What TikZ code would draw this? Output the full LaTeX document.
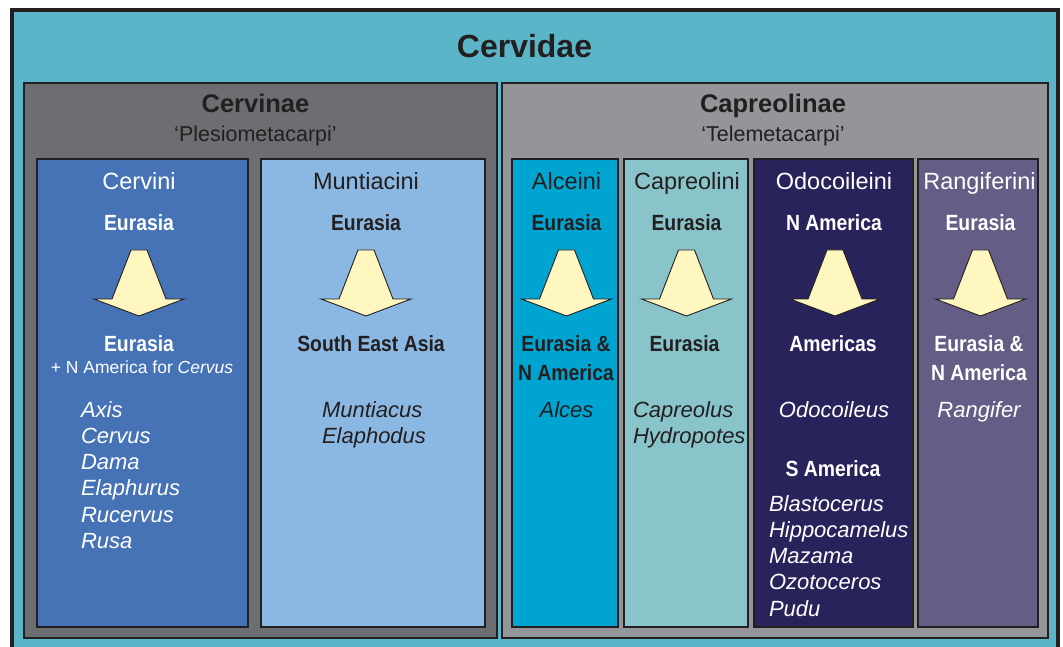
\documentclass[tikz,border=0pt]{standalone}
\usepackage{fontspec}
\setmainfont{Liberation Sans}
\newfontfamily\condf{Liberation Sans}[FakeStretch=0.88]
\definecolor{dark}{HTML}{231F20}
\definecolor{tealbg}{HTML}{5AB5C8}
\definecolor{cervinaec}{HTML}{6D6E71}
\definecolor{capreolinaec}{HTML}{939598}
\definecolor{cervinic}{HTML}{4673B5}
\definecolor{muntiacinic}{HTML}{8BB8E3}
\definecolor{alceinic}{HTML}{00A4D1}
\definecolor{capreolinic}{HTML}{89C4CB}
\definecolor{odocoileinic}{HTML}{29235C}
\definecolor{rangiferinic}{HTML}{645D85}
\definecolor{arrowc}{HTML}{FFF7BF}
\tikzset{
  every node/.style={inner sep=0pt, outer sep=0pt},
  box/.style={draw=dark, line width=2pt, anchor=north west},
  outerbox/.style={draw=dark, line width=3.5pt, anchor=north west, fill=tealbg},
  famtitle/.style={anchor=base, text=dark, font=\bfseries\fontsize{32}{36}\selectfont},
  subtitle/.style={anchor=base, text=dark, font=\bfseries\fontsize{25.5}{30}\selectfont},
  subnote/.style={anchor=base, text=dark, font=\fontsize{21.5}{26}\selectfont},
  coltitle/.style={anchor=base, font=\fontsize{23.5}{28}\selectfont},
  region/.style={anchor=base, font=\condf\bfseries\fontsize{22}{26}\selectfont},
  genus/.style={anchor=base west, font=\itshape\fontsize{22}{26}\selectfont},
  genusc/.style={anchor=base, font=\itshape\fontsize{22}{26}\selectfont},
  note/.style={anchor=base, font=\fontsize{17.5}{21}\selectfont},
  yarrow/.style={draw=dark, line width=0.9pt, fill=arrowc, line join=miter},
  downarrow/.pic={\draw[yarrow] (-8,0) -- (8,0) -- (27,49) -- (45,49) -- (0,66) -- (-45,49) -- (-27,49) -- cycle;}
}
\begin{document}
\begin{tikzpicture}[x=1pt,y=-1pt]
\clip (0,0) rectangle (1063,647);
\fill[white] (0,0) rectangle (1063,647);
% outer family box
\node[outerbox, minimum width=1046pt, minimum height=670pt] (cervidae) at (12,10) {};
\node[famtitle] (tcervidae) at (524.5,58) {Cervidae};
% subfamilies
\node[box, fill=cervinaec, minimum width=473pt, minimum height=555pt] (cervinae) at (24,83) {};
\node[box, fill=capreolinaec, minimum width=546pt, minimum height=555pt] (capreolinae) at (502,83) {};
\node[subtitle] (tcervinae) at (255.5,113) {Cervinae};
\node[subnote] (ncervinae) at (255.5,142) {‘Plesiometacarpi’};
\node[subtitle] (tcapreolinae) at (773,113) {Capreolinae};
\node[subnote] (ncapreolinae) at (773,142) {‘Telemetacarpi’};
% tribes
\node[box, fill=cervinic, minimum width=211pt, minimum height=468pt] (cervini) at (37,159) {};
\node[box, fill=muntiacinic, minimum width=224pt, minimum height=468pt] (muntiacini) at (261,159) {};
\node[box, fill=alceinic, minimum width=106pt, minimum height=468pt] (alceini) at (512,159) {};
\node[box, fill=capreolinic, minimum width=124pt, minimum height=468pt] (capreolini) at (624,159) {};
\node[box, fill=odocoileinic, minimum width=159pt, minimum height=468pt] (odocoileini) at (754,159) {};
\node[box, fill=rangiferinic, minimum width=120pt, minimum height=468pt] (rangiferini) at (918,159) {};
% Cervini
\node[coltitle, text=white] (t1) at (139,190) {Cervini};
\node[region, text=white] (f1) at (139,231) {Eurasia};
\pic at (139,250) {downarrow};
\node[region, text=white] (r1) at (139,351) {Eurasia};
\node[note, text=white] (n1) at (142,373) {+ N America for \textit{Cervus}};
\node[genus, text=white] (g1a) at (81,417) {Axis};
\node[genus, text=white] (g1b) at (81,443.3) {Cervus};
\node[genus, text=white] (g1c) at (81,469.6) {Dama};
\node[genus, text=white] (g1d) at (81,495.9) {Elaphurus};
\node[genus, text=white] (g1e) at (81,522.2) {Rucervus};
\node[genus, text=white] (g1f) at (81,548.5) {Rusa};
% Muntiacini
\node[coltitle, text=dark] (t2) at (366,190) {Muntiacini};
\node[region, text=dark] (f2) at (366,231) {Eurasia};
\pic at (366,250) {downarrow};
\node[region, text=dark] (r2) at (371,351) {South East Asia};
\node[genus, text=dark] (g2a) at (322,417) {Muntiacus};
\node[genus, text=dark] (g2b) at (322,443.3) {Elaphodus};
% Alceini
\node[coltitle, text=dark] (t3) at (566.5,190) {Alceini};
\node[region, text=dark] (f3) at (566.5,231) {Eurasia};
\pic at (566.5,250) {downarrow};
\node[region, text=dark] (r3a) at (566,351) {Eurasia \&};
\node[region, text=dark] (r3b) at (566,380) {N America};
\node[genusc, text=dark] (g3a) at (566.5,417) {Alces};
% Capreolini
\node[coltitle, text=dark] (t4) at (687,190) {Capreolini};
\node[region, text=dark] (f4) at (686.5,231) {Eurasia};
\pic at (686.5,250) {downarrow};
\node[region, text=dark] (r4) at (684.5,351) {Eurasia};
\node[genus, text=dark] (g4a) at (633,417) {Capreolus};
\node[genus, text=dark] (g4b) at (633,443.3) {Hydropotes};
% Odocoileini
\node[coltitle, text=white] (t5) at (834,190) {Odocoileini};
\node[region, text=white] (f5) at (834,231) {N America};
\pic at (835,250) {downarrow};
\node[region, text=white] (r5) at (833,351) {Americas};
\node[genusc, text=white] (g5a) at (834,417) {Odocoileus};
\node[region, text=white] (s5) at (833,476) {S America};
\node[genus, text=white] (g5b) at (769,511) {Blastocerus};
\node[genus, text=white] (g5c) at (769,537.3) {Hippocamelus};
\node[genus, text=white] (g5d) at (769,563.6) {Mazama};
\node[genus, text=white] (g5e) at (769,589.9) {Ozotoceros};
\node[genus, text=white] (g5f) at (769,616.2) {Pudu};
% Rangiferini
\node[coltitle, text=white] (t6) at (979.5,190) {Rangiferini};
\node[region, text=white] (f6) at (980.5,231) {Eurasia};
\pic at (980.5,250) {downarrow};
\node[region, text=white] (r6a) at (979,351) {Eurasia \&};
\node[region, text=white] (r6b) at (979,380) {N America};
\node[genusc, text=white] (g6a) at (979,417) {Rangifer};
\end{tikzpicture}
\end{document}
